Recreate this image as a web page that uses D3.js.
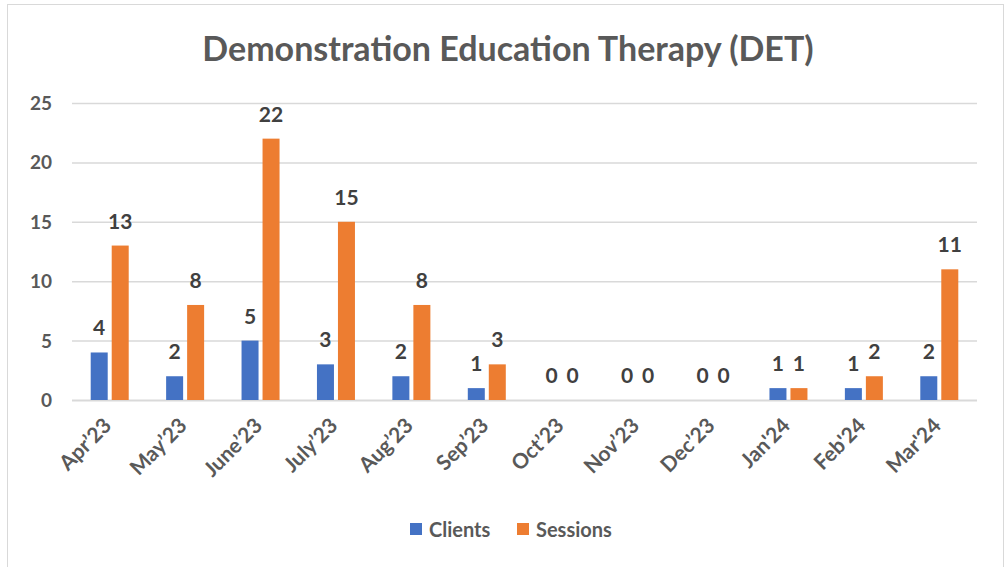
<!DOCTYPE html>
<html>
<head>
<meta charset="utf-8">
<script src="https://cdn.jsdelivr.net/npm/d3@7"></script>
<style>
  body { margin: 0; background: #fff; }
  text { font-family: Lato, "Open Sans", sans-serif; font-weight: bold; }
</style>
</head>
<body>
<div id="chart"></div>
<script>
var months = ["Apr\u201923", "May\u201923", "June\u201923", "July\u201923", "Aug\u201923", "Sep\u201923",
              "Oct\u201923", "Nov\u201923", "Dec\u201923", "Jan'24", "Feb'24", "Mar'24"];
var clients = [4, 2, 5, 3, 2, 1, 0, 0, 0, 1, 1, 2];
var sessions = [13, 8, 22, 15, 8, 3, 0, 0, 0, 1, 2, 11];
var seriesNames = ["Clients", "Sessions"];
var colors = ["#4472C4", "#ED7D31"];
var yTicks = [0, 5, 10, 15, 20, 25];

var W = 1008, H = 567;
var plot = { left: 72, right: 977, top: 103, bottom: 400 };

var svg = d3.select("#chart").append("svg")
  .attr("width", W)
  .attr("height", H);

// chart border
svg.append("rect")
  .attr("x", 7.5).attr("y", 4.5)
  .attr("width", 996).attr("height", 570)
  .attr("fill", "#fff")
  .attr("stroke", "#d9d9d9");

var x = d3.scaleBand()
  .domain(months)
  .range([plot.left, plot.right]);

var y = d3.scaleLinear()
  .domain([0, 25])
  .range([plot.bottom, plot.top]);

// gridlines
svg.append("g")
  .selectAll("line")
  .data(yTicks)
  .enter().append("line")
    .attr("x1", plot.left)
    .attr("x2", plot.right)
    .attr("y1", function(d) { return y(d) + 0.5; })
    .attr("y2", function(d) { return y(d) + 0.5; })
    .attr("stroke", "#d9d9d9")
    .attr("stroke-width", function(d) { return d === 0 ? 2 : 1.5; });

// y tick labels
svg.append("g")
  .selectAll("text")
  .data(yTicks)
  .enter().append("text")
    .attr("x", 52)
    .attr("y", function(d) { return y(d) + 7; })
    .attr("text-anchor", "end")
    .attr("font-size", 19)
    .attr("fill", "#595959")
    .text(function(d) { return d; });

var barW = 17, gap = 4;
var series = [clients, sessions];

series.forEach(function(vals, s) {
  var offset = s === 0 ? -(barW + gap / 2) : gap / 2;
  var g = svg.append("g");
  g.selectAll("rect")
    .data(vals)
    .enter().append("rect")
      .attr("x", function(d, i) { return x(months[i]) + x.bandwidth() / 2 + offset; })
      .attr("y", function(d) { return y(d); })
      .attr("width", barW)
      .attr("height", function(d) { return y(0) - y(d); })
      .attr("fill", colors[s]);
  g.selectAll("text")
    .data(vals)
    .enter().append("text")
      .attr("x", function(d, i) { return x(months[i]) + x.bandwidth() / 2 + offset + barW / 2; })
      .attr("y", function(d) { return y(d) - 17; })
      .attr("text-anchor", "middle")
      .attr("font-size", 21)
      .attr("fill", "#404040")
      .text(function(d) { return d; });
});

// x labels
svg.append("g")
  .selectAll("text")
  .data(months)
  .enter().append("text")
    .attr("transform", function(d) {
      return "translate(" + (x(d) + x.bandwidth() / 2 + 3) + "," + 427 + ") rotate(-45)";
    })
    .attr("text-anchor", "end")
    .attr("font-size", 21)
    .attr("fill", "#595959")
    .text(function(d) { return d; });

// title
svg.append("text")
  .attr("x", 508)
  .attr("y", 61)
  .attr("text-anchor", "middle")
  .attr("font-size", 34)
  .attr("fill", "#595959")
  .text("Demonstration Education Therapy (DET)");

// legend
var legend = svg.append("g");
var legendX = [410, 517];
seriesNames.forEach(function(name, i) {
  legend.append("rect")
    .attr("x", legendX[i]).attr("y", 523)
    .attr("width", 12).attr("height", 12)
    .attr("fill", colors[i]);
  legend.append("text")
    .attr("x", legendX[i] + 19).attr("y", 537)
    .attr("font-size", 20)
    .attr("fill", "#595959")
    .text(name);
});
</script>
</body>
</html>
